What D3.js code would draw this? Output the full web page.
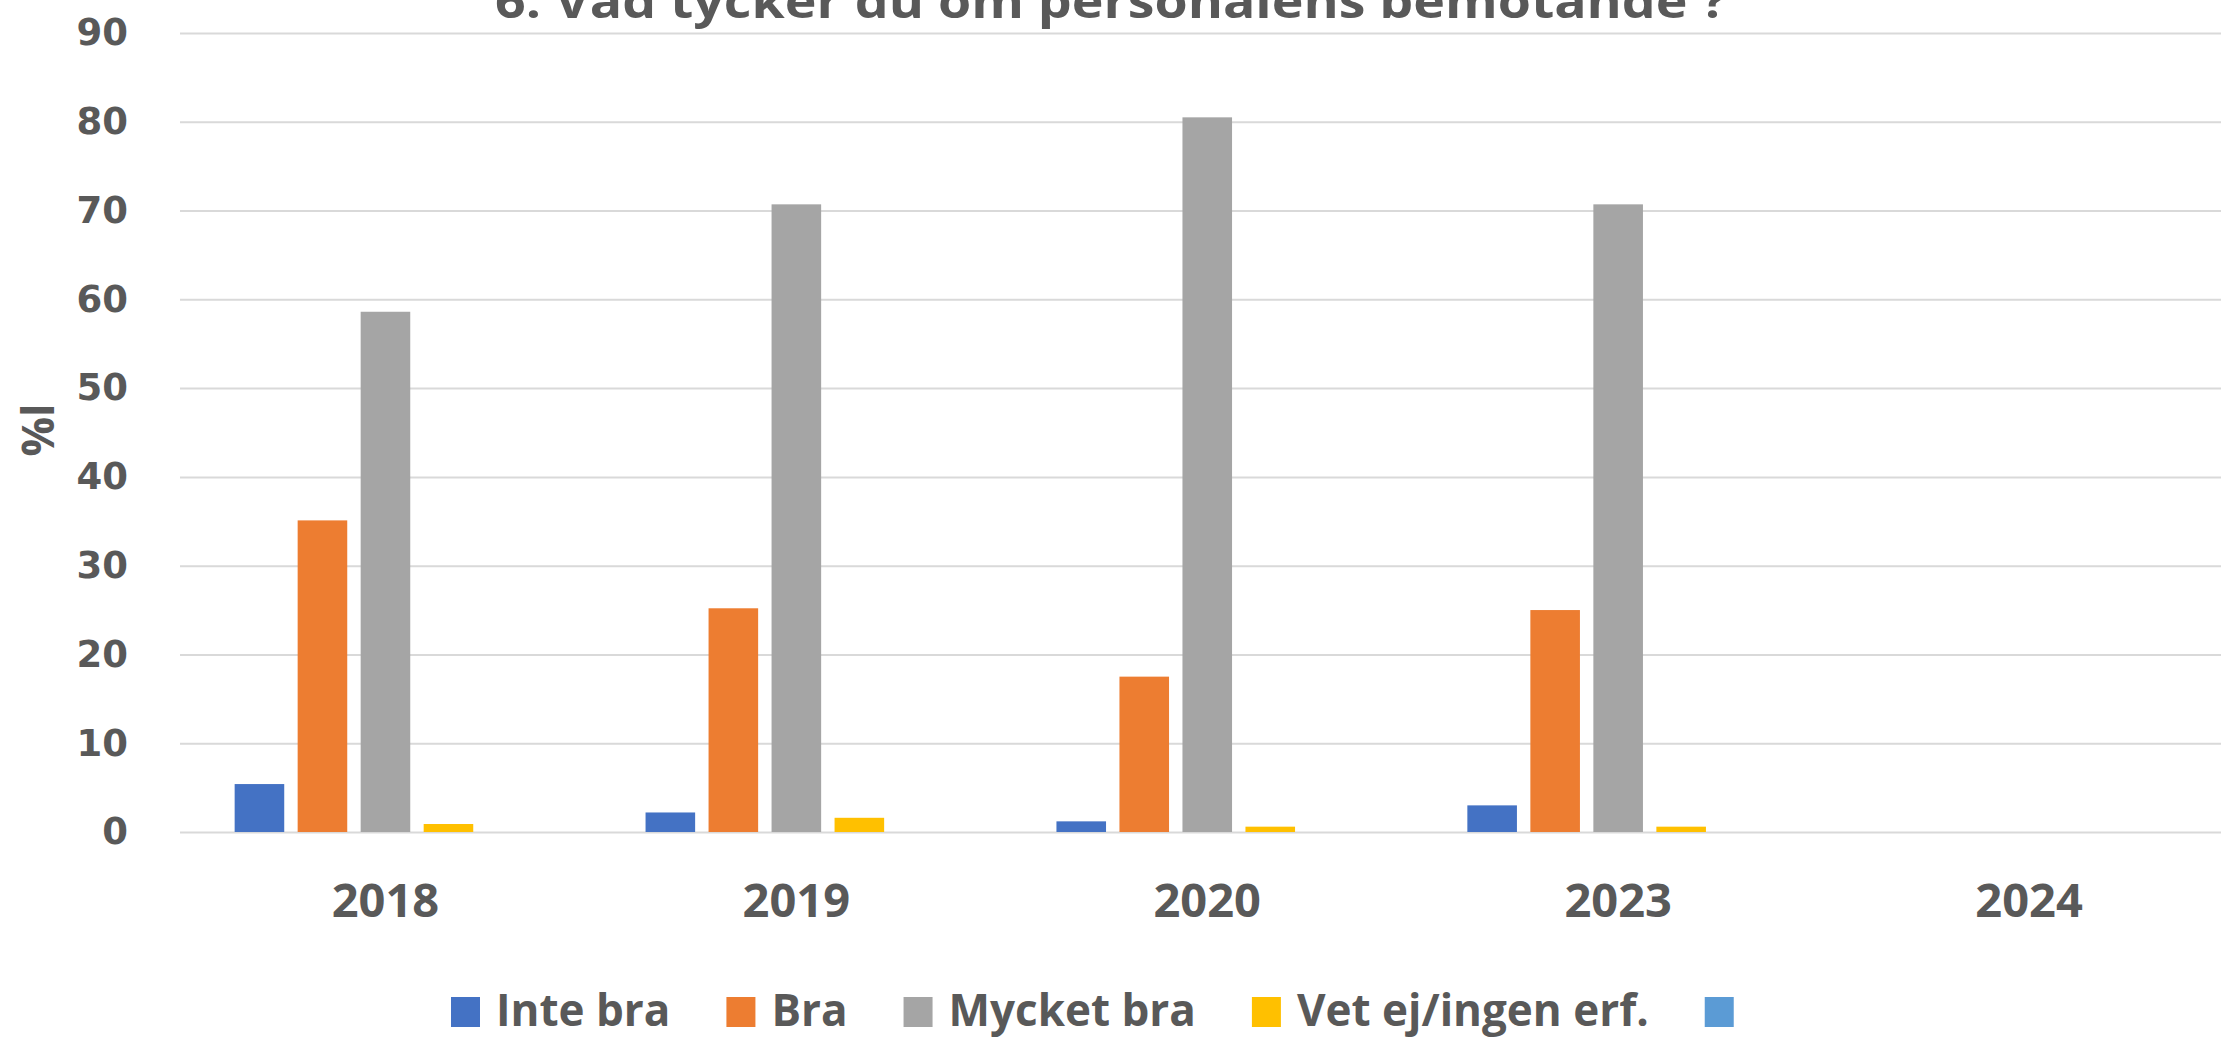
<!DOCTYPE html>
<html>
<head>
<meta charset="utf-8">
<script src="https://cdn.jsdelivr.net/npm/d3@7"></script>
<style>
  html, body { margin: 0; padding: 0; background: #ffffff; overflow: hidden; }
  svg { display: block; }
</style>
</head>
<body>
<svg id="chart" width="2221" height="1038"></svg>
<script>
// ---- Data ----
const title = "6. Vad tycker du om personalens bemötande ?";
const yTitle = "%l";
const categories = ["2018", "2019", "2020", "2023", "2024"];
const seriesNames = ["Inte bra", "Bra", "Mycket bra", "Vet ej/ingen erf.", ""];
const inteBra   = [5.4, 2.2, 1.2, 3.0, null];
const bra       = [35.1, 25.2, 17.5, 25.0, null];
const mycketBra = [58.6, 70.7, 80.5, 70.7, null];
const vetEj     = [0.9, 1.6, 0.6, 0.6, null];
const blank     = [null, null, null, null, null];
const yTicks = [0, 10, 20, 30, 40, 50, 60, 70, 80, 90];
const colors = ["#4472C4", "#ED7D31", "#A5A5A5", "#FFC000", "#5B9BD5"];

const seriesValues = [inteBra, bra, mycketBra, vetEj, blank];
const seriesKeys = seriesNames.map((n, i) => "s" + i);

// ---- Layout ----
const svg = d3.select("#chart");
const W = 2221;
const plotLeft = 180, plotRight = 2234.5;
const yZero = 832, yTop = 33;
const textColor = "#595959";
const gridColor = "#D9D9D9";

const x0 = d3.scaleBand().domain(categories).range([plotLeft, plotRight]).paddingInner(0).paddingOuter(0);
const groupW = x0.bandwidth() * 0.734;
const x1 = d3.scaleBand().domain(seriesKeys)
  .range([(x0.bandwidth() - groupW) / 2, (x0.bandwidth() + groupW) / 2])
  .paddingInner(0.213).paddingOuter(0);
const y = d3.scaleLinear().domain([0, 90]).range([yZero, yTop]);

// gridlines
const grid = svg.append("g").attr("transform", `translate(${plotLeft},0)`)
  .call(d3.axisLeft(y).tickValues(yTicks).tickSize(-(W - plotLeft)).tickFormat(""));
grid.select(".domain").remove();
grid.selectAll(".tick line").attr("stroke", gridColor).attr("stroke-width", 2);

// bars
const rows = categories.map((c, i) => ({
  cat: c,
  vals: seriesKeys.map((k, s) => ({ key: k, s: s, v: seriesValues[s][i] }))
}));
const groups = svg.append("g").selectAll("g").data(rows).join("g")
  .attr("transform", d => `translate(${x0(d.cat)},0)`);
groups.selectAll("rect").data(d => d.vals.filter(e => e.v != null)).join("rect")
  .attr("x", d => x1(d.key))
  .attr("width", x1.bandwidth())
  .attr("y", d => y(d.v))
  .attr("height", d => y(0) - y(d.v))
  .attr("fill", d => colors[d.s]);

// y axis labels
const yAxis = svg.append("g").attr("transform", `translate(${plotLeft},0)`)
  .call(d3.axisLeft(y).tickValues(yTicks).tickSize(0).tickPadding(52));
yAxis.select(".domain").remove();
yAxis.selectAll("text")
  .attr("fill", textColor)
  .style("font-family", "'DejaVu Sans', sans-serif")
  .style("font-weight", "bold")
  .style("font-size", "37px");

// x axis labels
const xAxis = svg.append("g").attr("transform", `translate(0,${yZero})`)
  .call(d3.axisBottom(x0).tickSize(0).tickPadding(51.5));
xAxis.select(".domain").remove();
xAxis.selectAll("text")
  .attr("fill", textColor)
  .style("font-family", "'Open Sans', sans-serif")
  .style("font-weight", "bold")
  .style("font-size", "47px");

// title (partially cropped at top, as in the reference)
svg.append("text")
  .attr("transform", "translate(1111,17.5) scale(1.167,1)")
  .attr("text-anchor", "middle")
  .attr("fill", textColor)
  .style("font-family", "'Open Sans', sans-serif")
  .style("font-weight", "bold")
  .style("font-size", "46px")
  .text(title);

// y axis title
svg.append("text")
  .attr("transform", "translate(54,430) rotate(-90)")
  .attr("text-anchor", "middle")
  .attr("fill", textColor)
  .style("font-family", "'Open Sans', sans-serif")
  .style("font-weight", "bold")
  .style("font-size", "44px")
  .text(yTitle);

// legend
const legend = svg.append("g");
let lx = 451;
const sq = 29, legBase = 1026;
seriesNames.forEach((name, i) => {
  legend.append("rect")
    .attr("x", lx).attr("y", legBase - 29)
    .attr("width", sq).attr("height", 30)
    .attr("fill", colors[i]);
  lx += sq + 16;
  if (name) {
    const t = legend.append("text")
      .attr("x", lx).attr("y", legBase)
      .attr("fill", textColor)
      .style("font-family", "'Open Sans', sans-serif")
      .style("font-weight", "bold")
      .style("font-size", "44px")
      .text(name);
    lx += t.node().getComputedTextLength() + 56;
  }
});
</script>
</body>
</html>
